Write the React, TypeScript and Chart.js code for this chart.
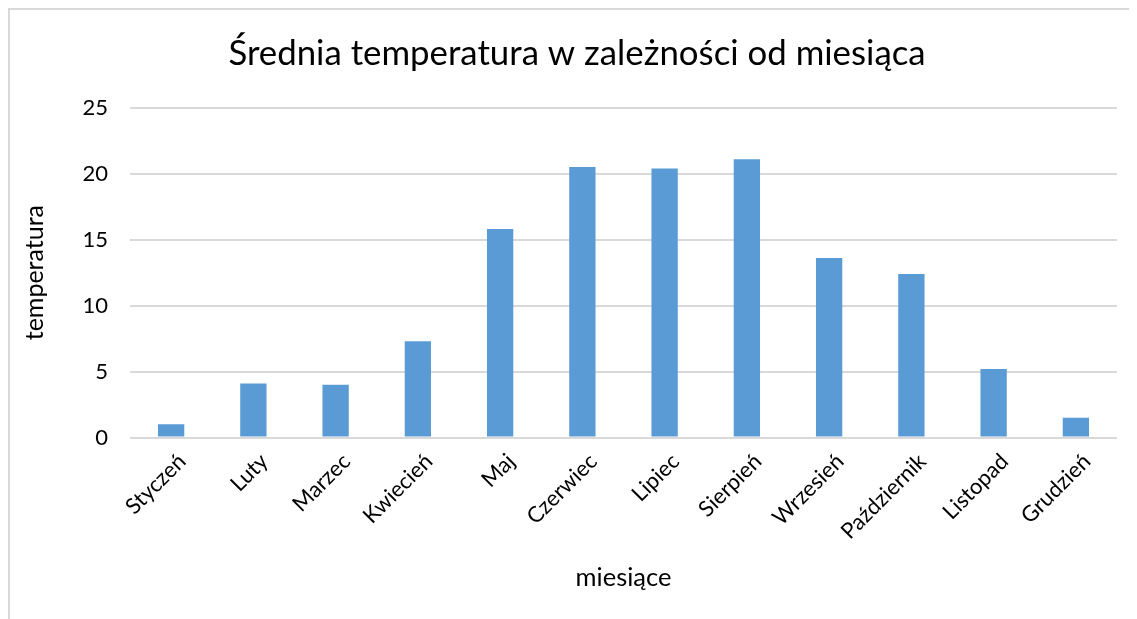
import React, { useEffect, useRef } from "react";
import { Chart, registerables } from "chart.js";

Chart.register(...registerables);

const months = [
  "Styczeń", "Luty", "Marzec", "Kwiecień", "Maj", "Czerwiec",
  "Lipiec", "Sierpień", "Wrzesień", "Październik", "Listopad", "Grudzień",
];
const temperatures = [1.0, 4.1, 4.0, 7.3, 15.8, 20.5, 20.4, 21.1, 13.6, 12.4, 5.2, 1.5];
const chartTitle = "Średnia temperatura w zależności od miesiąca";
const xTitle = "miesiące";
const yTitle = "temperatura";

const FONT = "Lato, 'Noto Sans', sans-serif";

export default function App() {
  const ref = useRef<HTMLCanvasElement | null>(null);

  useEffect(() => {
    document.body.style.overflow = "hidden";
    if (!ref.current) return;
    const chart = new Chart(ref.current, {
      type: "bar",
      data: {
        labels: months,
        datasets: [
          {
            data: temperatures,
            backgroundColor: "#5B9BD5",
            borderWidth: 0,
            barPercentage: 0.32,
            categoryPercentage: 1,
          },
        ],
      },
      options: {
        animation: false,
        responsive: false,
        maintainAspectRatio: false,
        layout: { padding: { left: 0, right: 0, top: 0, bottom: 0 } },
        plugins: {
          legend: { display: false },
          tooltip: { enabled: false },
          title: {
            display: true,
            text: chartTitle,
            color: "#000",
            font: { family: FONT, size: 34.8, weight: "normal" },
            padding: { top: 23, bottom: 33 },
          },
        },
        scales: {
          x: {
            grid: { display: false },
            border: { display: false },
            ticks: {
              color: "#000",
              font: { family: FONT, size: 22 },
              minRotation: 45,
              maxRotation: 45,
              autoSkip: false,
              padding: 3,
              labelOffset: 11,
            },
            title: {
              display: true,
              text: xTitle,
              color: "#000",
              font: { family: FONT, size: 25.5 },
              padding: { top: 0, bottom: 26 },
            },
            afterFit: (s: any) => {
              s.height = 181.5;
            },
          },
          y: {
            min: 0,
            max: 25,
            ticks: {
              stepSize: 5,
              color: "#000",
              font: { family: FONT, size: 22 },
              padding: 22,
            },
            grid: { color: "#D9D9D9", lineWidth: 2, drawTicks: false },
            border: { display: false },
            title: {
              display: true,
              text: yTitle,
              color: "#000",
              font: { family: FONT, size: 25 },
              padding: { top: 10, bottom: 0 },
            },
            afterFit: (s: any) => {
              s.width = 120;
            },
          },
          yRight: {
            position: "right",
            display: true,
            ticks: { display: false },
            grid: { display: false },
            border: { display: false },
            afterFit: (s: any) => {
              s.width = 27;
            },
          },
        },
      },
    });
    return () => chart.destroy();
  }, []);

  return (
    <div
      style={{
        width: 1136,
        height: 611,
        borderLeft: "2px solid #D9D9D9",
        borderTop: "2px solid #D9D9D9",
        boxSizing: "border-box",
        background: "#fff",
        overflow: "hidden",
      }}
    >
      <canvas ref={ref} width={1134} height={609} style={{ display: "block" }} />
    </div>
  );
}
